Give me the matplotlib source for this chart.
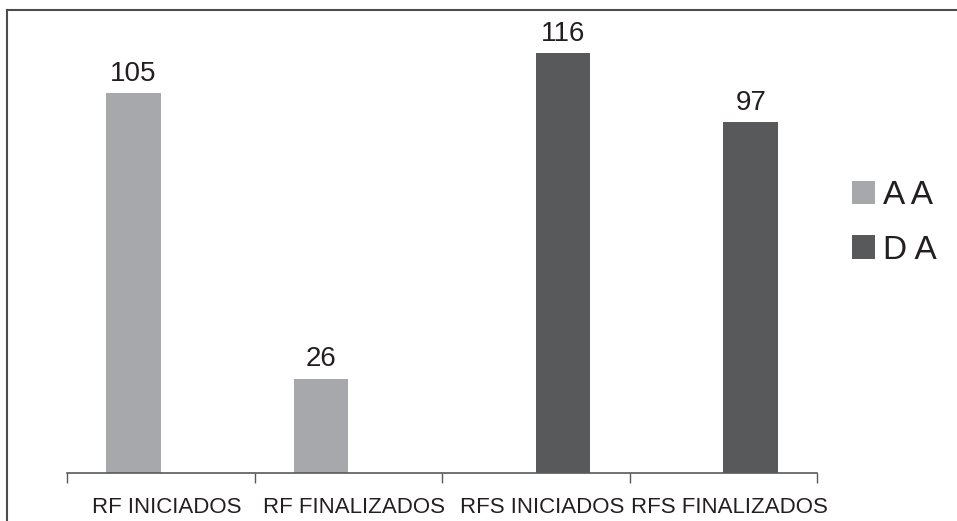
import numpy as np
import matplotlib.pyplot as plt
import matplotlib.transforms as mtransforms
from matplotlib.patches import Patch
from matplotlib.lines import Line2D

plt.rcParams['font.family'] = ['Liberation Sans', 'DejaVu Sans']

# values
categories = ['RF INICIADOS', 'RF FINALIZADOS', 'RFS INICIADOS', 'RFS FINALIZADOS']
series_names = ['A A', 'D A']
aa_values = [105, 26, 0, 0]
da_values = [0, 0, 116, 97]

colors = ['#a7a8ab', '#58595b']
text_color = '#231f20'

fig = plt.figure(figsize=(9.57, 5.21), dpi=100)
ax = fig.add_axes([0.070, 0.0921, 0.784, 0.850])

x = np.arange(len(categories))
width = 0.29

bars_aa = ax.bar(x - width / 2, aa_values, width, color=colors[0])
bars_da = ax.bar(x + width / 2, da_values, width, color=colors[1])

# value labels above the non-empty bars
for bars, vals in [(bars_aa, aa_values), (bars_da, da_values)]:
    for b, v in zip(bars, vals):
        if v == 0:
            continue
        ax.annotate(str(v), (b.get_x() + b.get_width() / 2, v),
                    xytext=(0, 9), textcoords='offset points',
                    ha='center', va='baseline', fontsize=20, color=text_color)

ax.set_xlim(-0.5, len(categories) - 0.5)
ax.set_ylim(0, 122.4)

for s in ['top', 'right', 'left']:
    ax.spines[s].set_visible(False)
ax.spines['bottom'].set_color('#58595b')
ax.spines['bottom'].set_linewidth(1.2)

ax.set_yticks([])
ax.set_xticks(x)
ax.set_xticklabels(categories, fontsize=16, color=text_color)
ax.tick_params(axis='x', which='major', length=0, pad=17)
ax.set_xticks(np.arange(-0.5, len(categories)), minor=True)
ax.tick_params(axis='x', which='minor', length=7, width=1.0, color='#58595b',
               direction='out')

# labels sit a little right of the category centres in the original
shift = mtransforms.ScaledTranslation(6 / 100, 0, fig.dpi_scale_trans)
for lbl in ax.get_xticklabels():
    lbl.set_transform(lbl.get_transform() + shift)

handles = [Patch(facecolor=c, edgecolor='none') for c in colors]
fig.legend(handles, series_names, loc='center left', bbox_to_anchor=(0.890, 0.572),
           frameon=False, fontsize=24, handlelength=0.69, handleheight=0.69,
           handletextpad=0.25, labelspacing=0.7, borderpad=0, borderaxespad=0,
           labelcolor=text_color)

# outer frame, only left and top edges are visible in the crop
fig.add_artist(Line2D([7 / 957, 7 / 957], [0, 1 - 9.5 / 521], transform=fig.transFigure,
                      color='#4d4d4d', lw=1.5))
fig.add_artist(Line2D([7 / 957, 1], [1 - 9.5 / 521, 1 - 9.5 / 521], transform=fig.transFigure,
                      color='#4d4d4d', lw=1.5))

fig.savefig('out.png', dpi=100)
